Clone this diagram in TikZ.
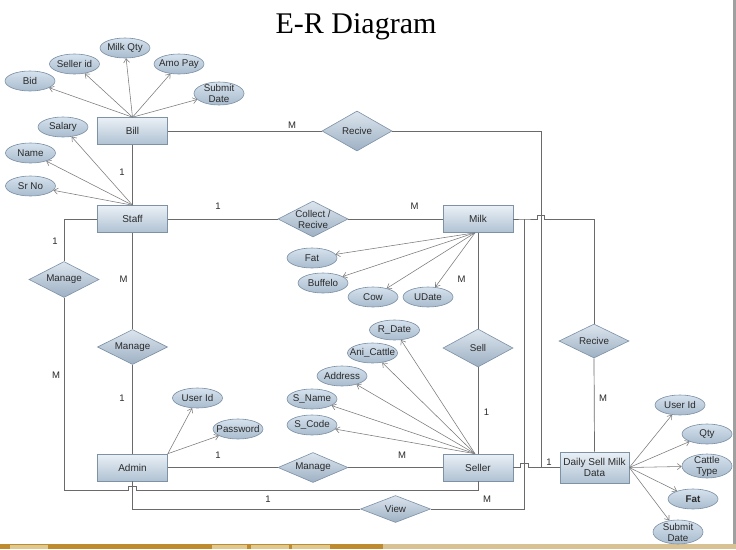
\documentclass[tikz,border=0pt]{standalone}
\usepackage{fontspec}
\setmainfont{Liberation Sans}
\newfontfamily\titlefont{Liberation Serif}
\usetikzlibrary{shapes.geometric,arrows.meta}
\definecolor{ln}{HTML}{6A6A6A}
\definecolor{aln}{HTML}{7A7A7A}
\definecolor{txt}{HTML}{2A2A2A}
\definecolor{boxtop}{HTML}{EAF0F6}
\definecolor{boxbot}{HTML}{B0C2D3}
\definecolor{boxbd}{HTML}{7E92A6}
\definecolor{elltop}{HTML}{D6E2EE}
\definecolor{ellbot}{HTML}{A8BBCD}
\definecolor{ellbd}{HTML}{7C90A5}
\definecolor{dtop}{HTML}{DCE5EE}
\definecolor{dbot}{HTML}{9DB0C3}
\definecolor{gold}{HTML}{BE8C2E}
\definecolor{goldlt}{HTML}{D8C294}
\definecolor{tab}{HTML}{E0C98F}
\definecolor{edge}{HTML}{A0A0A0}
\begin{document}
\begin{tikzpicture}[x=1pt,y=-1pt,
  ent/.style={draw=boxbd, line width=0.6pt, top color=boxtop, bottom color=boxbot, minimum width=70pt, minimum height=27pt, inner sep=0pt, align=center, font=\fontsize{10}{11}\selectfont, text=txt},
  att/.style={ellipse, draw=ellbd, line width=0.6pt, top color=elltop, bottom color=ellbot, minimum width=50pt, minimum height=20pt, inner sep=0pt},
  rel/.style={diamond, draw=ellbd, line width=0.6pt, top color=dtop, bottom color=dbot, minimum width=70pt, minimum height=36pt, inner sep=0pt},
  lbl/.style={inner sep=0pt, align=center, text=txt, font=\fontsize{9.8}{11}\selectfont},
  conn/.style={draw=ln, line width=0.7pt},
  arr/.style={draw=aln, line width=0.55pt, -{Straight Barb[length=4pt,width=6pt]}},
  card/.style={inner sep=0pt, text=txt, font=\fontsize{9.5}{10}\selectfont}
]
\useasboundingbox (0,0) rectangle (736,549);
\fill[white] (0,0) rectangle (736,549);
% screen frame
\fill[edge] (733,0) rectangle (736,544);
\fill[gold] (0,544) rectangle (383,549);
\fill[goldlt] (383,544) rectangle (736,549);
\fill[tab] (10,545) rectangle (48,549);
\fill[tab] (212,545) rectangle (247,549);
\fill[tab] (251,545) rectangle (289,549);
\fill[tab] (292,545) rectangle (330,549);

% title
\node[anchor=base, inner sep=0pt, font=\titlefont\fontsize{30}{32}\selectfont, text=black] (title) at (356,33) {E-R Diagram};

% entities
\node[ent] (bill) at (132.5,131) {Bill};
\node[ent] (staff) at (132.5,219) {Staff};
\node[ent] (milk) at (478,219) {Milk};
\node[ent] (admin) at (132.5,467.5) {Admin};
\node[ent] (seller) at (478,467.5) {Seller};
\node[ent, minimum width=69pt, minimum height=31pt, font=\fontsize{10}{11}\selectfont] (daily) at (594.5,467.5) {Daily Sell Milk\\Data};

% relationships
\node[rel, minimum height=40pt, label={[lbl]center:Recive}] (r1) at (357,131) {};
\node[rel, label={[lbl]center:{Collect /\\Recive}}] (cr) at (313,219) {};
\node[rel, label={[lbl]center:Manage}] (m1) at (64,279.5) {};
\node[rel, minimum height=35pt, label={[lbl]center:Manage}] (m2) at (132.5,347) {};
\node[rel, minimum height=38pt, label={[lbl]center:Sell}] (sell) at (478,348) {};
\node[rel, minimum height=34pt, label={[lbl]center:Recive}] (r2) at (594,341) {};
\node[rel, minimum height=30pt, label={[lbl]center:Manage}] (m3) at (313,467.5) {};
\node[rel, minimum height=27pt, label={[lbl]center:View}] (view) at (395.5,509) {};

% attributes
\node[att, label={[lbl]center:Bid}] (bid) at (30,81) {};
\node[att, label={[lbl]center:Seller id}] (sid) at (74.5,64) {};
\node[att, label={[lbl]center:Milk Qty}] (mq) at (125,48) {};
\node[att, label={[lbl]center:Amo Pay}] (ap) at (179,64) {};
\node[att, minimum height=23pt, label={[lbl]center:{Submit\\Date}}] (sd) at (219,93.5) {};
\node[att, label={[lbl]center:Salary}] (sal) at (63,127) {};
\node[att, label={[lbl]center:Name}] (nm) at (30.5,153) {};
\node[att, label={[lbl]center:Sr No}] (sr) at (30.5,186) {};
\node[att, label={[lbl]center:Fat}] (fat) at (312,258) {};
\node[att, label={[lbl]center:Buffelo}] (buf) at (323,283) {};
\node[att, label={[lbl]center:Cow}] (cow) at (373,297) {};
\node[att, label={[lbl]center:UDate}] (ud) at (428,297) {};
\node[att, label={[lbl]center:R\_Date}] (rd) at (394.5,330) {};
\node[att, label={[lbl]center:Ani\_Cattle}] (ac) at (372.5,353) {};
\node[att, label={[lbl]center:Address}] (addr) at (342,376) {};
\node[att, label={[lbl]center:S\_Name}] (sn) at (312,399) {};
\node[att, label={[lbl]center:S\_Code}] (sc) at (312,425) {};
\node[att, label={[lbl]center:User Id}] (uid) at (197.5,398) {};
\node[att, label={[lbl]center:Password}] (pw) at (238,429) {};
\node[att, label={[lbl]center:User Id}] (du) at (680,405) {};
\node[att, label={[lbl]center:Qty}] (qty) at (707,434) {};
\node[att, minimum height=24pt, label={[lbl]center:{Cattle\\Type}}] (ct) at (707,466) {};
\node[att, label={[lbl, font=\bfseries\fontsize{9.8}{11}\selectfont]center:Fat}] (dfat) at (693,499) {};
\node[att, minimum height=24pt, label={[lbl]center:{Submit\\Date}}] (dsd) at (678,532) {};

% junction coordinates
\coordinate (b1) at (541,131);
\coordinate (b2) at (541,467.5);
\coordinate (j1) at (524,219);
\coordinate (j2) at (594,219);
\coordinate (v1) at (132.5,509);
\coordinate (v2) at (524,509);
\coordinate (s1) at (64,219);
\coordinate (s2) at (64,490);
\coordinate (s3) at (478,490);
\coordinate (h1) at (537.5,219);
\coordinate (h2) at (128.5,490);
\coordinate (h3) at (520,467.5);

% connectors
\draw[conn] (bill.south) -- (staff.north);
\draw[conn] (bill.east) -- (r1.west);
\draw[conn] (r1.east) -- (b1) -- (b2);
\draw[conn] (staff.east) -- (cr.west);
\draw[conn] (cr.east) -- (milk.west);
\draw[conn] (staff.south) -- (m2.north);
\draw[conn] (m2.south) -- (admin.north);
\draw[conn] (staff.west) -- (s1) -- (m1.north);
\draw[conn] (m1.south) -- (s2) -- (h2) -- ++(0,-3.5) -- ++(8,0) -- ++(0,3.5) -- (s3) -- (seller.south);
\draw[conn] (admin.east) -- (m3.west);
\draw[conn] (m3.east) -- (seller.west);
\draw[conn] (milk.south) -- (sell.north);
\draw[conn] (sell.south) -- (seller.north);
\draw[conn] (milk.east) -- (j1) -- (h1) -- ++(0,-4) -- ++(7,0) -- ++(0,4) -- (j2) -- (r2.north);
\draw[conn] (r2.south) -- (daily.north);
\draw[conn] (admin.south) -- (v1) -- (view.west);
\draw[conn] (view.east) -- (v2) -- (j1);
\draw[conn] (seller.east) -- (h3) -- ++(0,-4) -- ++(8,0) -- ++(0,4) -- (daily.west);

% cardinalities
\node[card] (c1) at (292,125) {M};
\node[card] (c2) at (122,172) {1};
\node[card] (c3) at (218,206) {1};
\node[card] (c4) at (414.5,206) {M};
\node[card] (c5) at (55,241) {1};
\node[card] (c6) at (123.5,279) {M};
\node[card] (c7) at (56,375.5) {M};
\node[card] (c8) at (122,398) {1};
\node[card] (c9) at (461.5,279) {M};
\node[card] (c10) at (486.5,412.5) {1};
\node[card] (c11) at (218,455) {1};
\node[card] (c12) at (402,455) {M};
\node[card] (c13) at (268,499.5) {1};
\node[card] (c14) at (487,499.5) {M};
\node[card] (c15) at (603,398) {M};
\node[card] (c16) at (549,462) {1};

% attribute arrows
\foreach \a in {bid,sid,mq,ap,sd} \draw[arr] (bill.north) -- (\a);
\foreach \a in {sal,nm,sr} \draw[arr] (staff.north) -- (\a);
\foreach \a in {fat,buf,cow,ud} \draw[arr] ([xshift=-3pt]milk.south) -- (\a);
\foreach \a in {rd,ac,addr,sn,sc} \draw[arr] ([xshift=-3pt]seller.north) -- (\a);
\foreach \a in {uid,pw} \draw[arr] (admin.north east) -- (\a);
\foreach \a in {du,qty,ct,dfat,dsd} \draw[arr] (daily.east) -- (\a);
\end{tikzpicture}
\end{document}
